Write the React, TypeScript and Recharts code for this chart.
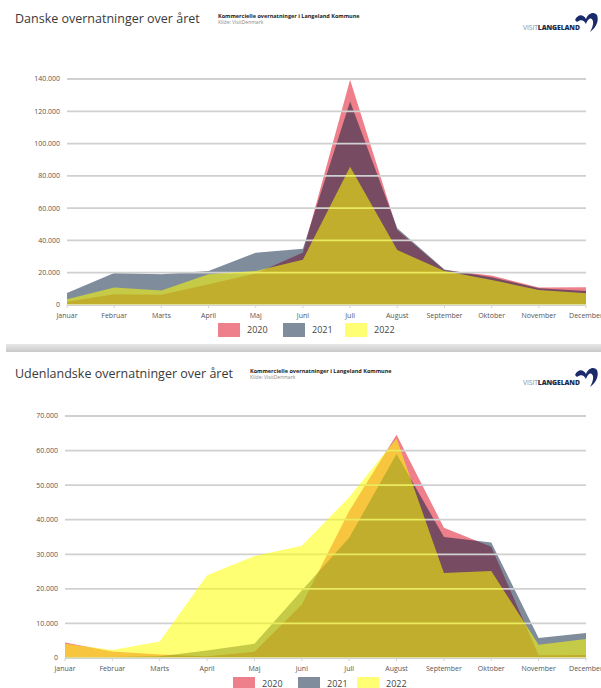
import React from 'react';
import { Area, AreaChart, CartesianGrid, XAxis, YAxis } from 'recharts';

const MONTHS = ['Januar', 'Februar', 'Marts', 'April', 'Maj', 'Juni', 'Juli', 'August', 'September', 'Oktober', 'November', 'December'];
const YEARS = ['2020', '2021', '2022'];

// Danske overnatninger
const DK_2020 = [2000, 6600, 6400, 12800, 19500, 32500, 139500, 46500, 21500, 18200, 10800, 11000];
const DK_2021 = [7400, 19800, 19000, 21000, 32400, 34800, 126000, 47500, 22000, 17200, 10300, 8600];
const DK_2022 = [3500, 10900, 9000, 19000, 21000, 28000, 85700, 34000, 21000, 15500, 9300, 7300];
const DK_TICKS = [0, 20000, 40000, 60000, 80000, 100000, 120000, 140000];

// Udenlandske overnatninger
const UD_2020 = [4500, 1900, 1000, 500, 1800, 15500, 42500, 64600, 37700, 32200, 800, 900];
const UD_2021 = [300, 300, 500, 2200, 4100, 19500, 34800, 59000, 35000, 33400, 5800, 7200];
const UD_2022 = [4100, 2300, 4800, 23900, 29500, 32500, 46500, 63500, 24600, 25200, 3800, 5500];
const UD_TICKS = [0, 10000, 20000, 30000, 40000, 50000, 60000, 70000];

const FONT = '"Open Sans", sans-serif';
const SWATCH = ['#EE808C', '#7F8C9B', '#FFFF73'];

const fmt = (v: number) => String(v).replace(/\B(?=(\d{3})+(?!\d))/g, '.');

const build = (a: number[], b: number[], c: number[]) =>
  MONTHS.map((m, i) => ({ month: m, y2020: a[i], y2021: b[i], y2022: c[i] }));

function Chart({ data, ticks, top, height, marginTop, marginBottom, left }: any) {
  return (
    <div style={{ position: 'absolute', left: 0, top }}>
      <AreaChart width={601} height={height} data={data} margin={{ top: marginTop, right: 15, bottom: marginBottom, left }}>
        <XAxis
          dataKey='month'
          interval={0}
          height={20}
          tickSize={3}
          tickMargin={5}
          axisLine={{ stroke: '#d3d3d3' }}
          tickLine={{ stroke: '#d3d3d3' }}
          tick={{ fill: '#555', fontSize: 7, fontFamily: FONT }}
        />
        <YAxis
          width={57}
          domain={[0, ticks[ticks.length - 1]]}
          ticks={ticks}
          tickFormatter={fmt}
          axisLine={false}
          tickLine={false}
          tickSize={0}
          tickMargin={7}
          tick={{ fill: '#555', fontSize: 7, fontFamily: FONT }}
        />
        <Area type='linear' dataKey='y2020' stroke='none' fill='#EE7F8B' fillOpacity={1} dot={false} activeDot={false} isAnimationActive={false} zIndex={100} />
        <Area type='linear' dataKey='y2021' stroke='none' fill='#00193A' fillOpacity={0.5} dot={false} activeDot={false} isAnimationActive={false} zIndex={101} />
        <CartesianGrid vertical={false} stroke='#d0d0d0' strokeWidth={1.8} zIndex={102} />
        <Area type='linear' dataKey='y2022' stroke='none' fill='#FFFF00' fillOpacity={0.55} dot={false} activeDot={false} isAnimationActive={false} zIndex={103} />
      </AreaChart>
    </div>
  );
}

function Header({ title, top, subX }: { title: string; top: number; subX: number }) {
  return (
    <>
      <div style={{ position: 'absolute', left: 15, top: top, fontSize: 12.5, lineHeight: '14px', color: '#3a3a3a', fontFamily: FONT }}>{title}</div>
      <div style={{ position: 'absolute', left: subX, top: top + 1, fontSize: 5.5, lineHeight: '6px', color: '#222', fontWeight: 700, fontFamily: FONT }}>
        Kommercielle overnatninger i Langeland Kommune
      </div>
      <div style={{ position: 'absolute', left: subX, top: top + 7, fontSize: 5, lineHeight: '6px', color: '#888', fontFamily: FONT }}>Kilde: VisitDenmark</div>
      <div style={{ position: 'absolute', left: 523, top: top + 12, fontSize: 6.8, lineHeight: '8px', fontFamily: FONT, letterSpacing: -0.1 }}>
        <span style={{ color: '#8a8f99' }}>VISIT</span>
        <span style={{ color: '#1b2a4a', fontWeight: 800 }}>LANGELAND</span>
      </div>
      <svg style={{ position: 'absolute', left: 575, top: top - 1 }} width={24} height={21} viewBox='0 0 24 21'>
        <path d='M0,9 C3,3 8,3 11,8 C13,2 19,0 22,4 C24,9 22,16 15,21 C19,14 19,9 16,7.5 C14,7 12,10 11,13 C9,9 6,8 2,11 Z' fill='#1b2a6a' />
      </svg>
    </>
  );
}

function Legend({ top, xs }: { top: number; xs: number[] }) {
  return (
    <>
      {YEARS.map((y, i) => (
        <React.Fragment key={y}>
          <div style={{ position: 'absolute', left: xs[i], top, width: 22, height: 14, background: SWATCH[i] }} />
          <div style={{ position: 'absolute', left: xs[i] + 29, top: top + 1, fontSize: 9, lineHeight: '12px', color: '#444', fontFamily: FONT }}>{y}</div>
        </React.Fragment>
      ))}
    </>
  );
}

export default function App() {
  return (
    <div style={{ position: 'relative', width: 601, height: 688, overflow: 'hidden', background: '#fff' }}>
      <style>{'body{margin:0}'}</style>
      <Header title='Danske overnatninger over året' top={12} subX={218} />
      <Chart data={build(DK_2020, DK_2021, DK_2022)} ticks={DK_TICKS} top={0} height={340} marginTop={79} marginBottom={15} left={10} />
      <Legend top={323} xs={[218, 283, 345]} />
      <div style={{ position: 'absolute', left: 6, top: 344, width: 595, height: 8, background: 'linear-gradient(#e8e8e8, #c9c9c9)' }} />
      <Header title='Udenlandske overnatninger over året' top={367} subX={250} />
      <Chart data={build(UD_2020, UD_2021, UD_2022)} ticks={UD_TICKS} top={352} height={336} marginTop={64} marginBottom={10} left={8} />
      <Legend top={677} xs={[233, 298, 357]} />
    </div>
  );
}
